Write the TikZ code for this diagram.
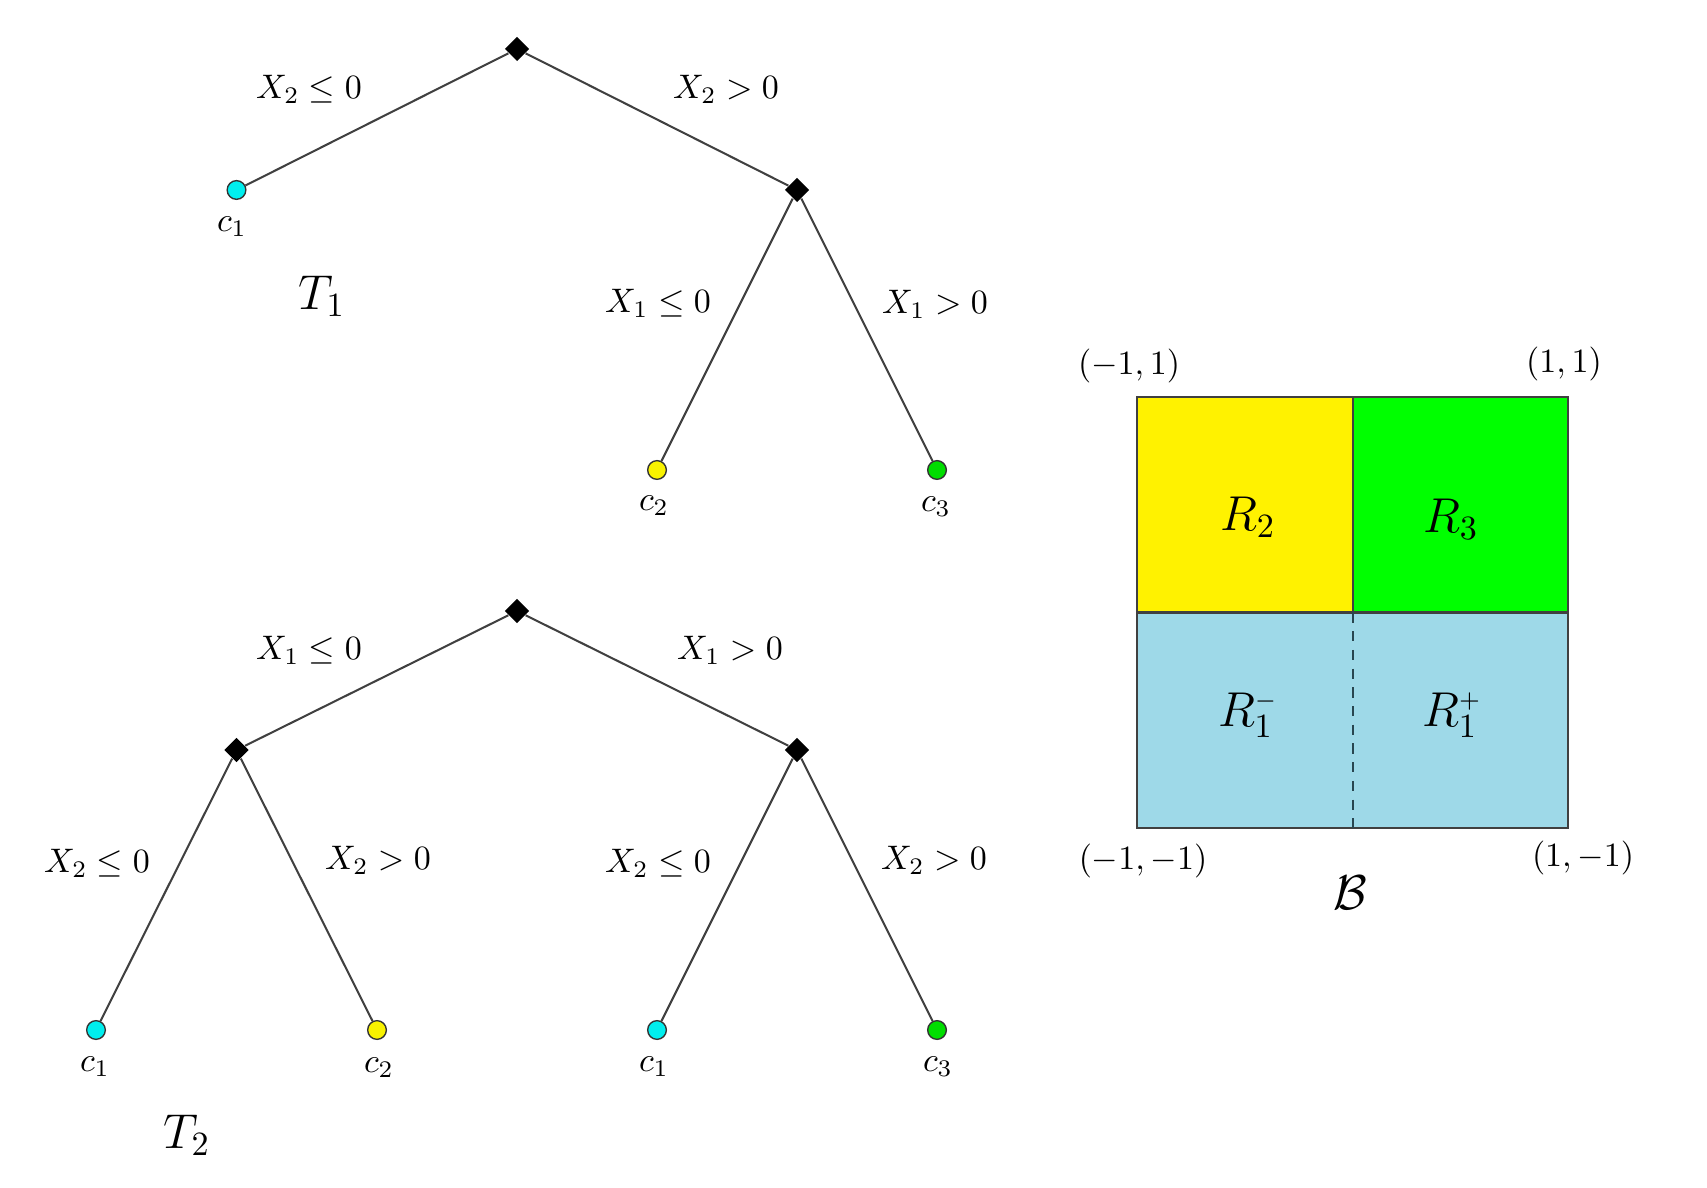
\documentclass[tikz,border=0pt]{standalone}
\usetikzlibrary{shapes.geometric}
\definecolor{leafcyan}{RGB}{0,238,238}
\definecolor{leafyellow}{RGB}{248,242,0}
\definecolor{leafgreen}{RGB}{0,222,0}
\definecolor{regyellow}{RGB}{255,242,0}
\definecolor{reggreen}{RGB}{0,255,0}
\definecolor{regblue}{RGB}{158,217,232}
\definecolor{edgegray}{RGB}{64,64,64}
\definecolor{dashteal}{RGB}{40,70,80}
\begin{document}
\begin{tikzpicture}[x=0.294pt,y=-0.294pt,
  split/.style={rectangle,fill=black,minimum size=5pt,inner sep=0pt,rotate=45},
  leaf/.style={circle,draw=black!80,line width=0.4pt,minimum size=5.5pt,inner sep=0pt},
  branch/.style={draw=edgegray,line width=0.6pt},
  lbl/.style={inner sep=0pt},
  big/.style={font=\Large,inner sep=0pt},
  frame/.style={draw=edgegray,line width=0.6pt}]
\useasboundingbox (0,0) rectangle (1707,1188);

% ---------- Tree T1 ----------
\node[split] (r1) at (517,49) {};
\node[leaf,fill=leafcyan] (l1a) at (236.5,190) {};
\node[split] (s1) at (797,190) {};
\node[leaf,fill=leafyellow] (l1b) at (657,470) {};
\node[leaf,fill=leafgreen] (l1c) at (937,470) {};
\draw[branch] (r1) -- (l1a);
\draw[branch] (r1) -- (s1);
\draw[branch] (s1) -- (l1b);
\draw[branch] (s1) -- (l1c);
\node[lbl] (e1a) at (309,89) {$X_2\le 0$};
\node[lbl] (e1b) at (726,89) {$X_2>0$};
\node[lbl] (e1c) at (658,303) {$X_1\le 0$};
\node[lbl] (e1d) at (935,304) {$X_1>0$};
\node[lbl] (c1a) at (232,227) {$c_1$};
\node[lbl] (c1b) at (654,506) {$c_2$};
\node[lbl] (c1c) at (936,507) {$c_3$};
\node[big] (t1) at (322,296) {$T_1$};

% ---------- Tree T2 ----------
\node[split] (r2) at (517,611) {};
\node[split] (s2a) at (236.5,750) {};
\node[split] (s2b) at (797,750) {};
\node[leaf,fill=leafcyan] (l2a) at (96,1030) {};
\node[leaf,fill=leafyellow] (l2b) at (377,1030) {};
\node[leaf,fill=leafcyan] (l2c) at (657,1030) {};
\node[leaf,fill=leafgreen] (l2d) at (937,1030) {};
\draw[branch] (r2) -- (s2a);
\draw[branch] (r2) -- (s2b);
\draw[branch] (s2a) -- (l2a);
\draw[branch] (s2a) -- (l2b);
\draw[branch] (s2b) -- (l2c);
\draw[branch] (s2b) -- (l2d);
\node[lbl] (e2a) at (309,650) {$X_1\le 0$};
\node[lbl] (e2b) at (730,650) {$X_1>0$};
\node[lbl] (e2c) at (97,863) {$X_2\le 0$};
\node[lbl] (e2d) at (378,860) {$X_2>0$};
\node[lbl] (e2e) at (658,863) {$X_2\le 0$};
\node[lbl] (e2f) at (934,860) {$X_2>0$};
\node[lbl] (c2a) at (95,1067) {$c_1$};
\node[lbl] (c2b) at (379,1068) {$c_2$};
\node[lbl] (c2c) at (654,1067) {$c_1$};
\node[lbl] (c2d) at (938,1067) {$c_3$};
\node[big] (t2) at (187,1135) {$T_2$};

% ---------- Partition of B ----------
\coordinate (tl) at (1137,397);
\coordinate (tm) at (1352.5,397);
\coordinate (tr) at (1568,397);
\coordinate (ml) at (1137,612.5);
\coordinate (mm) at (1352.5,612.5);
\coordinate (mr) at (1568,612.5);
\coordinate (bl) at (1137,828);
\coordinate (bm) at (1352.5,828);
\coordinate (br) at (1568,828);
\fill[regyellow] (tl) rectangle (mm);
\fill[reggreen] (tm) rectangle (mr);
\fill[regblue] (ml) rectangle (br);
\draw[frame] (tl) rectangle (br);
\draw[frame] (ml) -- (mr);
\draw[frame] (tm) -- (mm);
\draw[draw=dashteal,line width=0.6pt,dash pattern=on 3pt off 2.5pt] (mm) -- (bm);
\node[big] (rg2) at (1248,517) {$R_2$};
\node[big] (rg3) at (1451,519) {$R_3$};
\node[big] (rg1m) at (1248,715) {$R_1^{\scriptscriptstyle -}$};
\node[big] (rg1p) at (1452,715) {$R_1^{\scriptscriptstyle +}$};
\node[lbl] (ptl) at (1129,366) {$(-1,1)$};
\node[lbl] (ptr) at (1564,364) {$(1,1)$};
\node[lbl] (pbl) at (1143,861) {$(-1,-1)$};
\node[lbl] (pbr) at (1583,858) {$(1,-1)$};
\node[big] (bset) at (1350,893) {$\mathcal{B}$};
\end{tikzpicture}
\end{document}
